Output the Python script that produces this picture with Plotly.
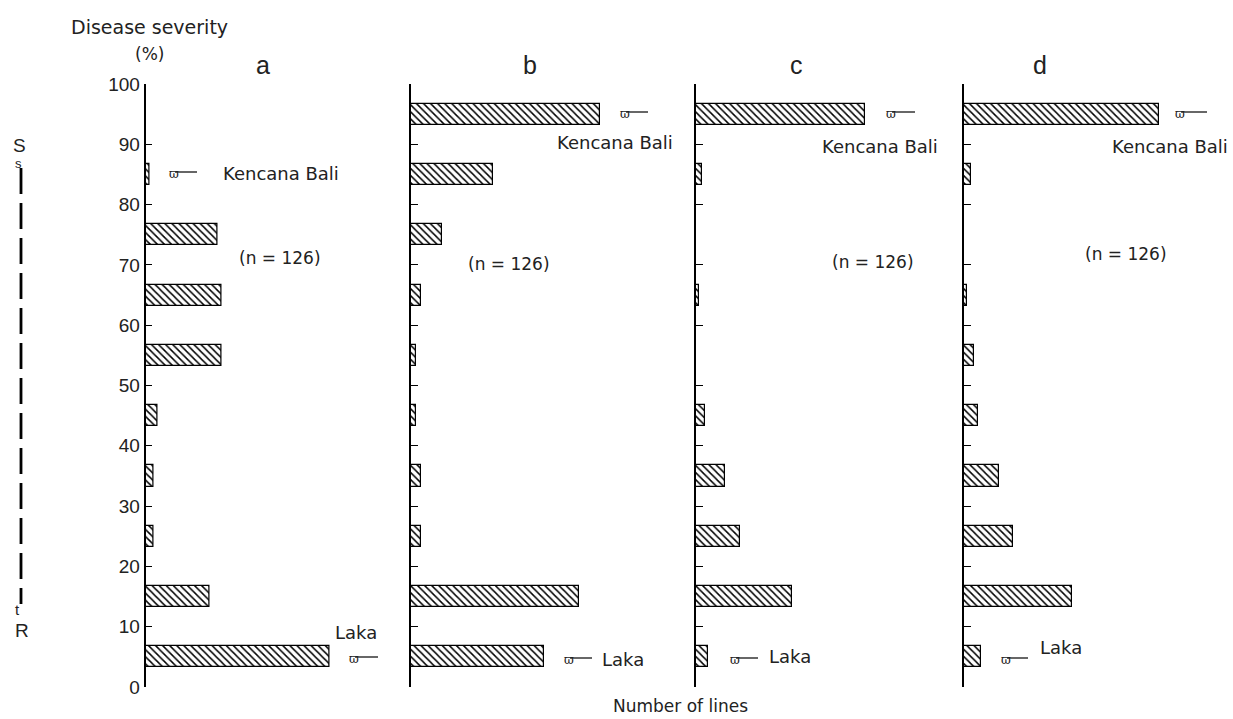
import plotly.graph_objects as go

# ---------------- data ----------------
severity_bins = [5, 15, 25, 35, 45, 55, 65, 75, 85, 95]   # bin centres (%)
tick_values = [0, 10, 20, 30, 40, 50, 60, 70, 80, 90, 100]
panel_names = ["a", "b", "c", "d"]
lines_a = [46, 16, 2, 2, 3, 19, 19, 18, 1, 0]
lines_b = [26, 33, 2, 2, 1, 1, 2, 6, 16, 37]
lines_c = [4, 33, 15, 10, 3, 0, 1, 0, 2, 58]
lines_d = [5, 31, 14, 10, 4, 3, 1, 0, 2, 56]
n_label = "(n = 126)"
susceptible_check = "Kencana Bali"
resistant_check = "Laka"

# ---------------- layout helpers ----------------
W, H = 1233, 719
def px(x):
    return x / W
def py(y):
    return 1 - y / H

axis_x = [145.5, 411, 696, 964]          # pixel of each panel's y-axis
x_max = [62.5, 49.0, 85.6, 71.8]         # x-range per panel (sets bar scale)
panel_w = 250
y_dom = [py(687), py(84)]

TXT = "#222222"
LAB_FONT = "DejaVu Sans"
TICK_FONT = "Liberation Sans"

fig = go.Figure()
series = [lines_a, lines_b, lines_c, lines_d]
for i, vals in enumerate(series):
    sfx = "" if i == 0 else str(i + 1)
    fig.add_trace(go.Bar(
        x=vals, y=severity_bins, orientation="h",
        xaxis="x" + sfx, yaxis="y" + sfx, width=3.5,
        marker=dict(color="white",
                    line=dict(color="black", width=1.2),
                    pattern=dict(shape="\\", fgcolor="black", bgcolor="white",
                                 size=5, solidity=0.3)),
        showlegend=False, hoverinfo="x+y",
    ))

layout = dict(
    template="none",
    width=W, height=H, paper_bgcolor="white", plot_bgcolor="rgba(0,0,0,0)",
    margin=dict(l=0, r=0, t=0, b=0, pad=0, autoexpand=False),
    bargap=0, showlegend=False,
)
for i in range(4):
    sfx = "" if i == 0 else str(i + 1)
    layout["xaxis" + sfx] = dict(
        domain=[px(axis_x[i]), px(axis_x[i] + panel_w)], range=[0, x_max[i]],
        visible=False, anchor="y" + sfx, fixedrange=True, automargin=False)
    layout["yaxis" + sfx] = dict(
        domain=y_dom, range=[0, 100], anchor="x" + sfx, automargin=False,
        tickvals=tick_values, ticks="inside", ticklen=7, tickwidth=1.2,
        tickcolor="black", showline=True, linewidth=1.5, linecolor="black",
        showgrid=False, zeroline=False, showticklabels=(i == 0),
        tickfont=dict(family=TICK_FONT, size=19, color=TXT), fixedrange=True)
fig.update_layout(**layout)

ann = []
def text(x, y, s, size=18, family=LAB_FONT, xanchor="left"):
    ann.append(dict(x=px(x), y=py(y), xref="paper", yref="paper", text=s,
                    showarrow=False, xanchor=xanchor, yanchor="middle",
                    font=dict(family=family, size=size, color=TXT)))

# axis titles
text(149, 27, "Disease severity", size=19, xanchor="center")
text(149, 54, "(%)", size=17, xanchor="center")
text(680, 706, "Number of lines", size=17, xanchor="center")

# panel letters
for lx, name in zip([263, 530, 796, 1040], panel_names):
    text(lx, 65, name, size=25, family=TICK_FONT, xanchor="center")

# n labels
for (nx, ny) in [(237, 258), (466, 264), (830, 262), (1083, 254)]:
    text(nx, ny, n_label, size=17)

# check cultivar labels
for (kx, ky) in [(221, 173), (555, 142), (820, 146), (1110, 146)]:
    text(kx, ky, susceptible_check, size=18)
for (lx, ly) in [(333, 632), (600, 659), (767, 656), (1038, 647)]:
    text(lx, ly, resistant_check, size=18)

# pointer glyphs + lines
shapes = []
pointers = [(167, 197, 173), (347, 378, 658), (618, 648, 113), (562, 592, 659),
            (884, 915, 113), (728, 758, 659), (1173, 1207, 113), (999, 1028, 659)]
for (g0, g1, gy) in pointers:
    ann.append(dict(x=px(g0), y=py(gy + 1), xref="paper", yref="paper", text="ϖ",
                    showarrow=False, xanchor="left", yanchor="middle",
                    font=dict(family="DejaVu Serif", size=12, color=TXT)))
    shapes.append(dict(type="line", xref="paper", yref="paper",
                       x0=px(g0 + 8), x1=px(g1), y0=py(gy - 1), y1=py(gy - 1),
                       line=dict(color="black", width=1.2)))

# S - R scale on the left
text(19, 145, "S", size=19, family=TICK_FONT, xanchor="center")
text(18, 164, "s", size=13, family=TICK_FONT, xanchor="center")
text(17, 609, "t", size=15, family=TICK_FONT, xanchor="center")
text(22, 630, "R", size=19, family=TICK_FONT, xanchor="center")
shapes.append(dict(type="line", xref="paper", yref="paper",
                   x0=px(21), x1=px(21), y0=py(168), y1=py(604),
                   line=dict(color="black", width=2.8, dash="26px,9px")))

fig.update_layout(annotations=ann, shapes=shapes)
fig.write_html("out.html", config={"displayModeBar": False},
               post_script="document.body.style.margin='0';document.body.style.overflow='hidden';")
